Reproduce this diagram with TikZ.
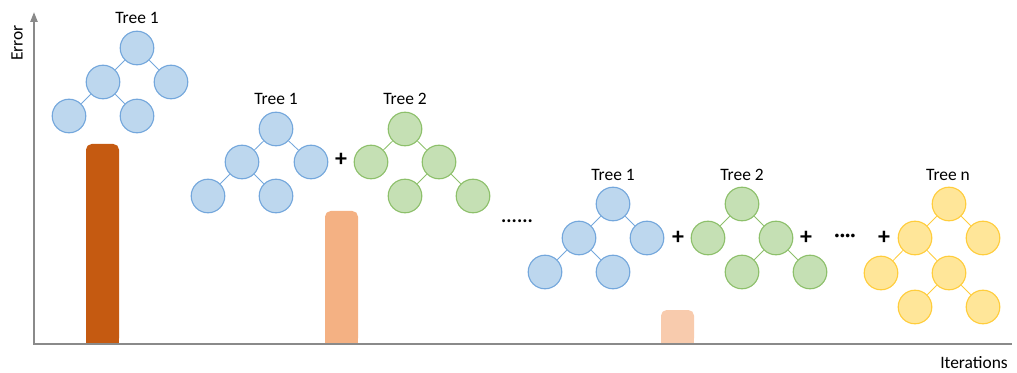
\documentclass[tikz,border=0pt]{standalone}
\usepackage{fontspec}
\setmainfont{Carlito}
\usetikzlibrary{arrows.meta}

\definecolor{bluefill}{HTML}{BDD7EE}
\definecolor{blueline}{HTML}{74A7DC}
\definecolor{greenfill}{HTML}{C5E0B4}
\definecolor{greenline}{HTML}{8DC06B}
\definecolor{yellowfill}{HTML}{FFE699}
\definecolor{yellowline}{HTML}{FFCD3C}
\definecolor{barone}{HTML}{C55A11}
\definecolor{bartwo}{HTML}{F4B183}
\definecolor{barthree}{HTML}{F8CBAD}
\definecolor{axisgray}{HTML}{8A8A8A}

\tikzset{
  leaf/.style={circle, inner sep=0pt, minimum size=0.84cm, line width=0.8pt},
  blueleaf/.style={leaf, draw=blueline, fill=bluefill},
  greenleaf/.style={leaf, draw=greenline, fill=greenfill},
  yellowleaf/.style={leaf, draw=yellowline, fill=yellowfill},
  bluelink/.style={draw=blueline, line width=0.6pt},
  greenlink/.style={draw=greenline, line width=0.6pt},
  yellowlink/.style={draw=yellowline, line width=0.6pt},
  treelabel/.style={font=\fontsize{12.4}{15}\selectfont, inner sep=0pt},
  plus/.style={font=\fontsize{17}{18}\selectfont\bfseries, inner sep=0pt},
  ellipsis/.style={font=\fontsize{14}{16}\selectfont\bfseries, inner sep=0pt},
  axis/.style={draw=axisgray, line width=1.4pt},
}

\begin{document}
\begin{tikzpicture}[x=0.025cm, y=-0.025cm]
    \useasboundingbox (0,0) rectangle (1017,373);

    %% Error bars
    \fill[barone, rounded corners=4] (86,144) rectangle (119,344);
    \fill[barone] (86,320) rectangle (119,344);
    \fill[bartwo, rounded corners=4] (325,211) rectangle (358,344);
    \fill[bartwo] (325,320) rectangle (358,344);
    \fill[barthree, rounded corners=4] (661,310) rectangle (694,344);
    \fill[barthree] (661,325) rectangle (694,344);

    %% Axes
    \draw[axis, {Triangle[length=7pt, width=5pt]}-] (34,12) -- (34,344) -- (1012,344);
    \node[treelabel, rotate=90] (ylab) at (17,43) {Error};
    \node[treelabel] (xlab) at (974,363) {Iterations};

    %% First iteration: one tree
    \node[treelabel] (la) at (137,18) {Tree 1};
    \node[blueleaf] (a0) at (137,48) {};
    \node[blueleaf] (a1) at (103,82) {};
    \node[blueleaf] (a2) at (171,82) {};
    \node[blueleaf] (a3) at (69,116) {};
    \node[blueleaf] (a4) at (137,116) {};
    \draw[bluelink] (a0) -- (a1) (a0) -- (a2) (a1) -- (a3) (a1) -- (a4);

    %% Second iteration: two trees
    \node[treelabel] (lb) at (276,99) {Tree 1};
    \node[blueleaf] (b0) at (276,129) {};
    \node[blueleaf] (b1) at (242,162) {};
    \node[blueleaf] (b2) at (311,162) {};
    \node[blueleaf] (b3) at (208,196) {};
    \node[blueleaf] (b4) at (276,196) {};
    \draw[bluelink] (b0) -- (b1) (b0) -- (b2) (b1) -- (b3) (b1) -- (b4);

    \node[plus] (p1) at (341,160) {+};

    \node[treelabel] (lc) at (405,99) {Tree 2};
    \node[greenleaf] (c0) at (405,129) {};
    \node[greenleaf] (c1) at (371,162) {};
    \node[greenleaf] (c2) at (439,162) {};
    \node[greenleaf] (c3) at (405,196) {};
    \node[greenleaf] (c4) at (473,196) {};
    \draw[greenlink] (c0) -- (c1) (c0) -- (c2) (c2) -- (c3) (c2) -- (c4);

    \node[ellipsis] (gap) at (517,221) {......};

    %% Last iteration: n trees
    \node[treelabel] (ld) at (613,175) {Tree 1};
    \node[blueleaf] (d0) at (613,204) {};
    \node[blueleaf] (d1) at (579,238) {};
    \node[blueleaf] (d2) at (647,238) {};
    \node[blueleaf] (d3) at (545,272) {};
    \node[blueleaf] (d4) at (613,272) {};
    \draw[bluelink] (d0) -- (d1) (d0) -- (d2) (d1) -- (d3) (d1) -- (d4);

    \node[plus] (p2) at (678,238) {+};

    \node[treelabel] (le) at (742,175) {Tree 2};
    \node[greenleaf] (e0) at (742,204) {};
    \node[greenleaf] (e1) at (708,238) {};
    \node[greenleaf] (e2) at (776,238) {};
    \node[greenleaf] (e3) at (742,272) {};
    \node[greenleaf] (e4) at (810,272) {};
    \draw[greenlink] (e0) -- (e1) (e0) -- (e2) (e2) -- (e3) (e2) -- (e4);

    \node[plus] (p3) at (806,238) {+};
    \node[ellipsis] (dots) at (845,238) {····};
    \node[plus] (p4) at (884,238) {+};

    \node[treelabel] (lf) at (948,175) {Tree n};
    \node[yellowleaf] (f0) at (949,204) {};
    \node[yellowleaf] (f1) at (915,238) {};
    \node[yellowleaf] (f2) at (983,238) {};
    \node[yellowleaf] (f3) at (881,273) {};
    \node[yellowleaf] (f4) at (949,273) {};
    \node[yellowleaf] (f5) at (915,307) {};
    \node[yellowleaf] (f6) at (983,307) {};
    \draw[yellowlink] (f0) -- (f1) (f0) -- (f2) (f1) -- (f3) (f1) -- (f4)
        (f4) -- (f5) (f4) -- (f6);

\end{tikzpicture}
\end{document}
